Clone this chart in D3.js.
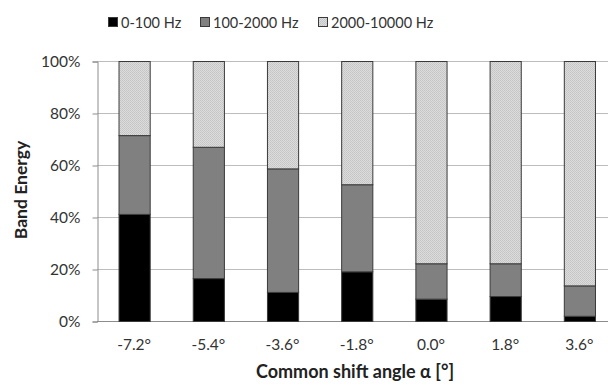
<!DOCTYPE html>
<html>
<head>
<meta charset="utf-8">
<script src="https://cdn.jsdelivr.net/npm/d3@7"></script>
<style>
  body { margin: 0; background: #fff; }
  svg { display: block; font-family: Lato, "Open Sans", sans-serif; }
</style>
</head>
<body>
<div id="chart"></div>
<script>
const angles = ["-7.2°", "-5.4°", "-3.6°", "-1.8°", "0.0°", "1.8°", "3.6°"];
const bandNames = ["0-100 Hz", "100-2000 Hz", "2000-10000 Hz"];
const lowBand = [41.2, 16.5, 11.2, 19.1, 8.6, 9.6, 2.0];
const midBand = [30.3, 50.5, 47.5, 33.5, 13.6, 12.6, 11.7];
const highBand = [28.5, 33.0, 41.3, 47.4, 77.8, 77.8, 86.3];
const yTicks = [0, 20, 40, 60, 80, 100];

const width = 608, height = 386;
const margin = { top: 61, left: 97, bottom: 65 };
const plotRight = 616.5;

const svg = d3.select("#chart").append("svg")
  .attr("width", width)
  .attr("height", height);

// dotted pattern for the high band
const defs = svg.append("defs");
const pat = defs.append("pattern")
  .attr("id", "dots")
  .attr("width", 2).attr("height", 2)
  .attr("patternUnits", "userSpaceOnUse");
pat.append("rect").attr("width", 2).attr("height", 2).attr("fill", "#dcdcdc");
pat.append("rect").attr("width", 1).attr("height", 1).attr("fill", "#c4c4c4");
pat.append("rect").attr("x", 1).attr("y", 1).attr("width", 1).attr("height", 1).attr("fill", "#c9c9c9");

const colors = ["#000000", "#808080", "url(#dots)"];

const data = angles.map((a, i) => ({
  angle: a,
  b0: lowBand[i],
  b1: midBand[i],
  b2: highBand[i],
}));

const x = d3.scaleBand()
  .domain(angles)
  .range([margin.left, plotRight])
  .paddingInner(0.58)
  .paddingOuter(0.29);

const y = d3.scaleLinear()
  .domain([0, 100])
  .range([height - margin.bottom, margin.top]);

// gridlines
svg.append("g")
  .selectAll("line")
  .data(yTicks)
  .join("line")
  .attr("x1", margin.left)
  .attr("x2", width)
  .attr("y1", d => y(d) + 0.5)
  .attr("y2", d => y(d) + 0.5)
  .attr("stroke", d => d === 0 ? "#8c8c8c" : "#bdbdbd")
  .attr("stroke-width", 1);

// y axis
const yAxis = svg.append("g")
  .attr("transform", `translate(${margin.left + 0.5},0.5)`)
  .call(d3.axisLeft(y).tickValues(yTicks).tickFormat(d => d + "%").tickSize(5).tickPadding(12));
yAxis.select(".domain").attr("stroke", "#8c8c8c");
yAxis.selectAll(".tick line").attr("stroke", "#8c8c8c");
yAxis.selectAll(".tick text")
  .attr("fill", "#333")
  .style("font-size", "15.5px")
  .style("font-family", "Lato, sans-serif");

// stacked bars
const stack = d3.stack().keys(["b0", "b1", "b2"]);
const series = stack(data);

svg.append("g")
  .selectAll("g")
  .data(series)
  .join("g")
  .attr("fill", (d, i) => colors[i])
  .selectAll("rect")
  .data(d => d)
  .join("rect")
  .attr("x", d => x(d.data.angle) + 0.5)
  .attr("y", d => y(d[1]) + 0.5)
  .attr("width", x.bandwidth())
  .attr("height", d => y(d[0]) - y(d[1]))
  .attr("stroke", "#3a3a3a")
  .attr("stroke-width", 1);

// x tick labels
svg.append("g")
  .selectAll("text")
  .data(angles)
  .join("text")
  .attr("x", d => x(d) + x.bandwidth() / 2)
  .attr("y", 350)
  .attr("text-anchor", "middle")
  .attr("fill", "#333")
  .style("font-size", "15.5px")
  .text(d => d);

// axis titles
svg.append("text")
  .attr("x", 355)
  .attr("y", 378)
  .attr("text-anchor", "middle")
  .attr("fill", "#222")
  .style("font-size", "18px")
  .style("font-weight", "bold")
  .text("Common shift angle α [°]");

svg.append("text")
  .attr("transform", `translate(27,190) rotate(-90)`)
  .attr("text-anchor", "middle")
  .attr("fill", "#222")
  .style("font-size", "17.5px")
  .style("font-weight", "bold")
  .text("Band Energy");

// legend
const legendX = [108, 200, 318];
const legend = svg.append("g")
  .selectAll("g")
  .data(bandNames)
  .join("g")
  .attr("transform", (d, i) => `translate(${legendX[i]},17)`);
legend.append("rect")
  .attr("x", 0.5).attr("y", 0.5)
  .attr("width", 9).attr("height", 9)
  .attr("fill", (d, i) => colors[i])
  .attr("stroke", "#3a3a3a");
legend.append("text")
  .attr("x", 13)
  .attr("y", 10.5)
  .attr("fill", "#333")
  .style("font-size", "14.5px")
  .text(d => d);
</script>
</body>
</html>
